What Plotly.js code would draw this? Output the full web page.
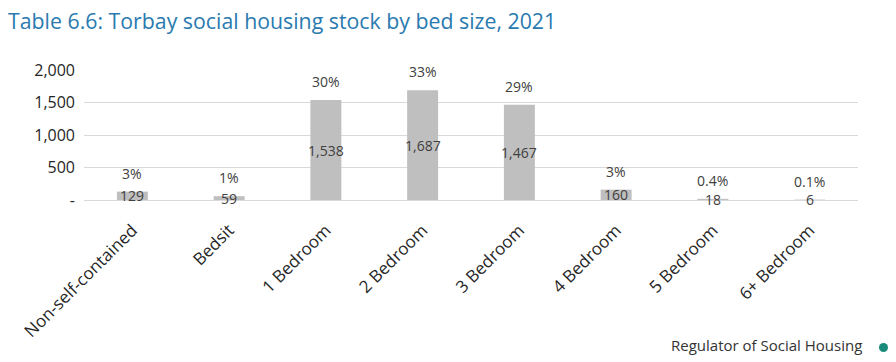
<!DOCTYPE html>
<html>
<head>
<meta charset="utf-8">
<script src="https://cdn.plot.ly/plotly-3.0.1.min.js"></script>
<style>html,body{margin:0;padding:0;background:#fff;}#chart{width:896px;height:362px;}</style>
</head>
<body>
<div id="chart"></div>
<script>
const categories = ["Non-self-contained", "Bedsit", "1 Bedroom", "2 Bedroom", "3 Bedroom", "4 Bedroom", "5 Bedroom", "6+ Bedroom"];
const stock = [129, 59, 1538, 1687, 1467, 160, 18, 6];
const shareLabels = ["3%", "1%", "30%", "33%", "29%", "3%", "0.4%", "0.1%"];
const yTickValues = [0, 500, 1000, 1500, 2000];
const yTickLabels = ["-", "500", "1,000", "1,500", "2,000"];

const FONT = "Open Sans, Liberation Sans, sans-serif";
const fmt = v => v.toLocaleString("en-GB");

const annotations = [];
categories.forEach((c, i) => {
  annotations.push({
    x: c, y: stock[i] / 2, xref: "x", yref: "y",
    text: fmt(stock[i]), showarrow: false,
    yanchor: "middle", font: {family: FONT, size: 14, color: "#404040"}
  });
  annotations.push({
    x: c, y: stock[i], xref: "x", yref: "y",
    text: shareLabels[i], showarrow: false,
    yanchor: "bottom", yshift: 7, font: {family: FONT, size: 14, color: "#404040"}
  });
});
annotations.push({
  xref: "paper", yref: "paper", x: (864 - 84) / 774, y: (200 - 345) / 130,
  xanchor: "right", yanchor: "middle", showarrow: false,
  text: "Regulator of Social Housing", font: {family: FONT, size: 15, color: "#333333"}
});

const data = [{
  type: "bar",
  x: categories,
  y: stock,
  marker: {color: "#BFBFBF"},
  hoverinfo: "x+y"
}];

const layout = {
  width: 896, height: 362,
  margin: {l: 84, r: 38, t: 70, b: 162},
  paper_bgcolor: "#ffffff", plot_bgcolor: "#ffffff",
  showlegend: false,
  bargap: 0.68,
  title: {
    text: "Table 6.6: Torbay social housing stock by bed size, 2021",
    x: 8 / 896, xref: "container", xanchor: "left",
    y: 1 - 22 / 362, yref: "container", yanchor: "middle",
    font: {family: FONT, size: 21.3, color: "#2A7AB0"}
  },
  xaxis: {
    type: "category",
    tickangle: -45,
    tickfont: {family: FONT, size: 17, color: "#262626"},
    showgrid: false, zeroline: false, showline: false,
    ticks: "", ticklabelstandoff: 16
  },
  yaxis: {
    range: [0, 2000],
    tickvals: yTickValues, ticktext: yTickLabels,
    tickfont: {family: FONT, size: 16, color: "#262626"},
    showgrid: true, gridcolor: "#D9D9D9", gridwidth: 1,
    zeroline: true, zerolinecolor: "#D9D9D9", zerolinewidth: 1,
    showline: false, ticks: "", ticklabelstandoff: 8
  },
  annotations: annotations,
  shapes: [{
    type: "circle", xref: "paper", yref: "paper",
    x0: (879 - 84) / 774, x1: (888 - 84) / 774,
    y0: (200 - 352) / 130, y1: (200 - 343) / 130,
    fillcolor: "#1A8A7A", line: {width: 0}
  }]
};

Plotly.newPlot("chart", data, layout, {displayModeBar: false, staticPlot: true});
</script>
</body>
</html>
